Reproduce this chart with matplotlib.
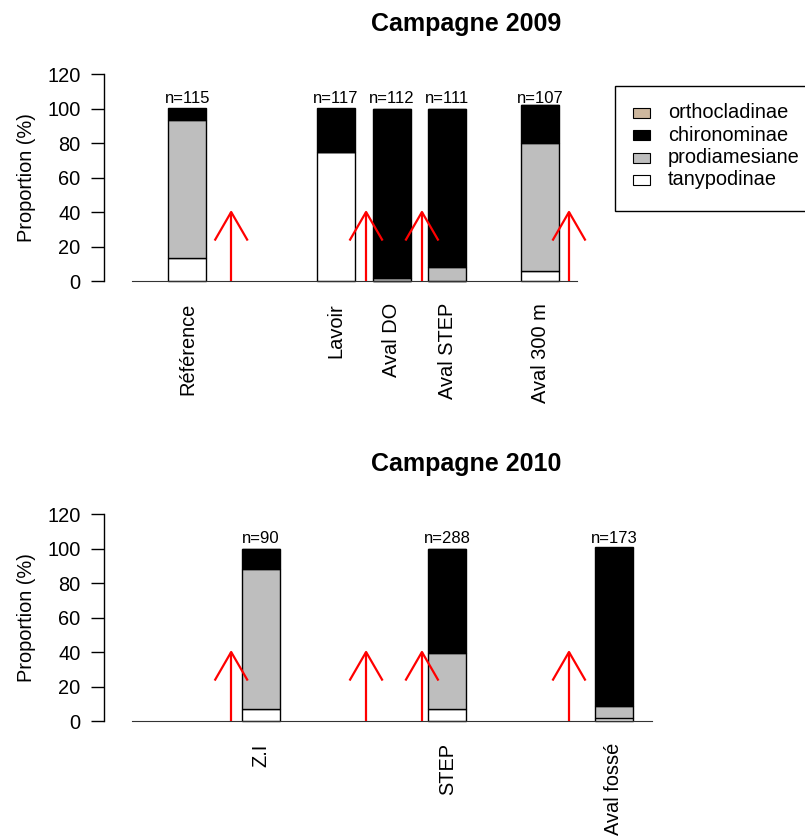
import matplotlib
matplotlib.use("Agg")
import matplotlib.pyplot as plt
from matplotlib.patches import Rectangle

plt.rcParams['font.family'] = ['Liberation Sans', 'DejaVu Sans']

# --- data ---------------------------------------------------------------
taxa = ['tanypodinae', 'prodiamesiane', 'chironominae', 'orthocladinae']
taxa_colors = ['white', '#BEBEBE', 'black', '#CDB79E']

# Campagne 2009
sites_2009 = ['Référence', 'Lavoir', 'Aval DO', 'Aval STEP', 'Aval 300 m']
pos_2009 = [1.46, 5.36, 6.84, 8.30, 10.74]
n_2009 = [115, 117, 112, 111, 107]
tany_2009 = [13.5, 74.5, 0.0, 0.0, 6.0]
prod_2009 = [80.0, 0.0, 1.5, 8.0, 74.0]
chiro_2009 = [6.5, 25.5, 98.5, 92.0, 22.0]
ortho_2009 = [0.0, 0.0, 0.0, 0.0, 0.0]

# Campagne 2010
sites_2010 = ['Z.I', 'STEP', 'Aval fossé']
pos_2010 = [3.39, 8.30, 12.68]
n_2010 = [90, 288, 173]
tany_2010 = [7.0, 7.0, 2.0]
prod_2010 = [81.0, 32.5, 6.5]
chiro_2010 = [12.0, 60.5, 92.0]
ortho_2010 = [0.0, 0.0, 0.5]

# rejets (fleches rouges)
arrows_x = [2.61, 6.16, 7.63, 11.50]
arrow_top = 40

W, H = 805, 838
FS = 14.4
fig = plt.figure(figsize=(W / 100, H / 100), dpi=100)


def rect(left, top, right, bottom):
    return [left / W, 1 - bottom / H, (right - left) / W, (bottom - top) / H]


def panel(box, title, sites, pos, n, layers, axis_end):
    ax = fig.add_axes(rect(*box))
    left_px, top_px, right_px, bottom_px = box
    ax.set_xlim((left_px - 132) / 38, (right_px - 132) / 38)
    ax.set_ylim(0, 120)
    bottom = [0.0] * len(pos)
    for vals, col in zip(layers, taxa_colors):
        ax.bar(pos, vals, bottom=bottom, width=1.0, color=col,
               edgecolor='black', linewidth=1, clip_on=False, zorder=2)
        bottom = [b + v for b, v in zip(bottom, vals)]
    for x, k in zip(pos, n):
        ax.text(x, 101.5, 'n=%d' % k, ha='center', va='bottom', fontsize=12)
    for x in arrows_x:
        ax.plot([x, x], [0, arrow_top], color='red', lw=1.6, zorder=4,
                clip_on=False, solid_capstyle='butt')
        ax.plot([x - 0.42, x, x + 0.42], [arrow_top - 16, arrow_top, arrow_top - 16],
                color='red', lw=1.6, zorder=4, clip_on=False)
    for s in ['top', 'right']:
        ax.spines[s].set_visible(False)
    ax.spines['left'].set_bounds(0, 120)
    ax.spines['left'].set_linewidth(1)
    ax.spines['bottom'].set_bounds(0, axis_end)
    ax.spines['bottom'].set_color('#333333')
    ax.spines['bottom'].set_zorder(3)
    ax.set_yticks(range(0, 121, 20))
    ax.tick_params(axis='y', length=9.5, width=1, pad=7.5, labelsize=FS)
    ax.set_xticks(pos)
    ax.set_xticklabels(sites, rotation=90, fontsize=FS)
    ax.tick_params(axis='x', length=0, pad=16)
    ax.patch.set_visible(False)
    fig.text(26 / W, 1 - (top_px + bottom_px) / 2 / H, 'Proportion (%)',
             rotation=90, ha='center', va='center', fontsize=FS)
    fig.text(466 / W, 1 - (top_px - 50) / H, title, ha='center', va='center',
             fontsize=18, fontweight='bold')
    return ax


panel((104, 74, 805, 281), 'Campagne 2009', sites_2009, pos_2009, n_2009,
      [tany_2009, prod_2009, chiro_2009, ortho_2009], 11.71)
panel((104, 514, 805, 721), 'Campagne 2010', sites_2010, pos_2010, n_2010,
      [tany_2010, prod_2010, chiro_2010, ortho_2010], 13.68)

# legend (R style, box runs past the right edge)
fig.patches.append(Rectangle((615 / W, 1 - 211 / H), 220 / W, 125 / H,
                             transform=fig.transFigure, facecolor='white',
                             edgecolor='black', lw=1))
for i, name in enumerate(taxa[::-1]):
    yc = 113 + 22.3 * i
    col = taxa_colors[::-1][i]
    fig.patches.append(Rectangle((633 / W, 1 - (yc + 5) / H), 17 / W, 10 / H,
                                 transform=fig.transFigure, facecolor=col,
                                 edgecolor='black', lw=0.8))
    fig.text(668 / W, 1 - yc / H, name, ha='left', va='center', fontsize=FS)

plt.savefig('out.png', dpi=100)
plt.close()
